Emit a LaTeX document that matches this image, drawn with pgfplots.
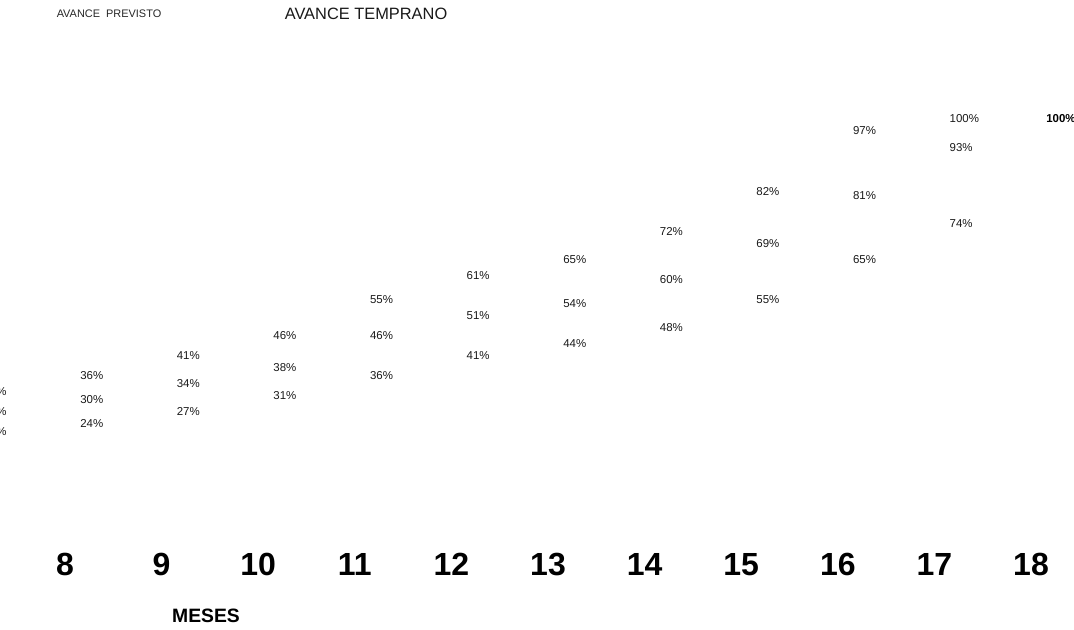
\documentclass[border=0pt]{standalone}
\usepackage{pgfplots}
\pgfplotsset{compat=1.18}
\usepackage{fontspec}
\setmainfont{Liberation Sans}
\begin{document}
\begin{tikzpicture}
\begin{axis}[
  name=ax,
  scale only axis,
  width=805.5pt, height=471.75pt,
  xmin=7.3271, xmax=18.4451,
  ymin=-27.18, ymax=129.68,
  clip=false,
  axis line style={draw=none},
  tick style={draw=none},
  ytick=\empty,
  xtick={8,9,10,11,12,13,14,15,16,17,18},
  xticklabel style={font=\fontsize{24}{28}\selectfont\bfseries, anchor=base, yshift=40.5pt},
  /pgf/number format/assume math mode=true,
  nodes near coords={\pgfmathprintnumber[fixed,precision=0]{\pgfplotspointmeta}\%},
  every node near coord/.append style={anchor=west, inner sep=0pt, xshift=11.25pt, font=\fontsize{8.6}{10}\selectfont, text=black!90},
]
\addplot[draw=none, mark=none] coordinates {
 (7,32) (8,36) (9,41) (10,46) (11,55) (12,61) (13,65) (14,72) (15,82) (16,97) (17,100)};
\addplot[draw=none, mark=none] coordinates {
 (7,27) (8,30) (9,34) (10,38) (11,46) (12,51) (13,54) (14,60) (15,69) (16,81) (17,93)};
\addplot[draw=none, mark=none] coordinates {
 (7,22) (8,24) (9,27) (10,31) (11,36) (12,41) (13,44) (14,48) (15,55) (16,65) (17,74)};
\addplot[draw=none, mark=none, every node near coord/.append style={font=\fontsize{8.6}{10}\selectfont\bfseries, text=black}] coordinates {(18,100)};
\node[font=\fontsize{8.2}{10}\selectfont, text=black!85] at (rel axis cs:0.1015,0.9777) {AVANCE\ \ PREVISTO};
\node[font=\fontsize{12.3}{14}\selectfont, text=black!90] at (rel axis cs:0.3408,0.9777) {AVANCE TEMPRANO};
\node[font=\fontsize{14.5}{17}\selectfont\bfseries] at (rel axis cs:0.1918,0.0207) {MESES};
\end{axis}
\pgfresetboundingbox
\useasboundingbox (ax.south west) rectangle (ax.north east);
\end{tikzpicture}
\end{document}
